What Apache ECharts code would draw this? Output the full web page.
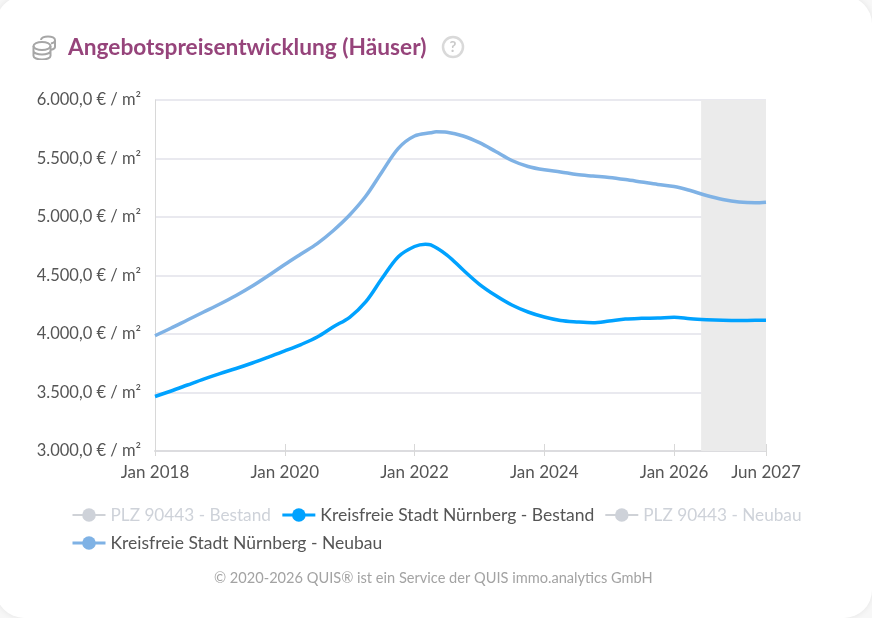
<!DOCTYPE html>
<html lang="de">
<head>
<meta charset="utf-8">
<title>Angebotspreisentwicklung (Häuser)</title>
<style>
  html, body { margin: 0; padding: 0; background: #f7f7f7; }
  #card { position: absolute; left: -4px; top: -4px; width: 876px; height: 622px; background: #fff; border-radius: 28px; box-shadow: 0 0 6px rgba(0,0,0,0.08); }
  #chart { position: absolute; left: 0; top: 0; width: 872px; height: 618px; }
  #coins { position: absolute; left: 32px; top: 35px; width: 25px; height: 25px; }
</style>
<script src="https://cdn.jsdelivr.net/npm/echarts@6/dist/echarts.min.js"></script>
</head>
<body>
<div id="card"></div>
<div id="chart"></div>
<svg id="coins" viewBox="0 0 25 25" fill="none" stroke="#a6a6a6" stroke-width="2">
  <ellipse cx="10" cy="11" rx="8.500" ry="4"/>
  <path d="M1.500 11v10c0 2 4 3.500 8.500 3.500s8.500-1.500 8.500-3.500V11M1.500 16c0 2 4 3.500 8.500 3.500s8.500-1.500 8.500-3.500"/>
  <path d="M9 5c0-2 3-3.500 7-3.500s7 1.500 7 3.500v7c0 1.300-1.500 2.300-4 2.800M19 8.500c2.500-.5 4-1.500 4-3"/>
</svg>
<script>
// Sample months, asking prices in EUR per square metre; each series also has a sample at its peak
const bestandMonths = [
  '2018-01','2018-04','2018-07','2018-10','2019-01','2019-04','2019-07','2019-10',
  '2020-01','2020-04','2020-07','2020-10','2021-01','2021-04','2021-07','2021-10',
  '2022-01','2022-03','2022-04','2022-07','2022-10','2023-01','2023-04','2023-07','2023-10',
  '2024-01','2024-04','2024-07','2024-10','2025-01','2025-04','2025-07','2025-10',
  '2026-01','2026-04','2026-07','2026-10','2027-01','2027-04','2027-06'
];
const bestandValues = [
  3466, 3513, 3564, 3615, 3662, 3705, 3752, 3803,
  3855, 3910, 3974, 4062, 4143, 4276, 4476, 4661,
  4748, 4768, 4762, 4675, 4547, 4425, 4329, 4248, 4188,
  4145, 4115, 4103, 4096, 4111, 4128, 4134, 4137,
  4143, 4130, 4122, 4117, 4115, 4117, 4117
];
const neubauMonths = [
  '2018-01','2018-04','2018-07','2018-10','2019-01','2019-04','2019-07','2019-10',
  '2020-01','2020-04','2020-07','2020-10','2021-01','2021-04','2021-07','2021-10',
  '2022-01','2022-04','2022-05','2022-07','2022-10','2023-01','2023-04','2023-07','2023-10',
  '2024-01','2024-04','2024-07','2024-10','2025-01','2025-04','2025-07','2025-10',
  '2026-01','2026-04','2026-07','2026-10','2027-01','2027-04','2027-06'
];
const neubauValues = [
  3985, 4051, 4120, 4188, 4256, 4329, 4410, 4500,
  4594, 4684, 4773, 4885, 5017, 5179, 5387, 5587,
  5692, 5720, 5728, 5724, 5692, 5635, 5560, 5483, 5432,
  5403, 5385, 5363, 5350, 5338, 5320, 5299, 5278,
  5261, 5226, 5184, 5150, 5128, 5121, 5126
];

const seriesNames = ['PLZ 90443 - Bestand', 'Kreisfreie Stadt Nürnberg - Bestand', 'PLZ 90443 - Neubau', 'Kreisfreie Stadt Nürnberg - Neubau'];
const xTickMonths = ['2018-01', '2020-01', '2022-01', '2024-01', '2026-01', '2027-06'];
const forecastStart = '2026-06';
const forecastEnd = '2027-06';

const MONTH_NAMES = ['Jan','Feb','Mär','Apr','Mai','Jun','Jul','Aug','Sep','Okt','Nov','Dez'];
// The x axis counts months since January 2018
const toIndex = (m) => { const [y, mo] = m.split('-').map(Number); return (y - 2018) * 12 + mo - 1; };
const monthLabel = (i) => MONTH_NAMES[i % 12] + ' ' + (2018 + Math.floor(i / 12));
const pairs = (months, values) => months.map((m, i) => [toIndex(m), values[i]]);
const formatPrice = (v) => v.toLocaleString('de-DE', { minimumFractionDigits: 1, maximumFractionDigits: 1 }) + ' € / m²';
const xTicks = xTickMonths.map(toIndex);

const chart = echarts.init(document.getElementById('chart'), null, { renderer: 'canvas' });

const baseX = {
  type: 'value',
  min: toIndex('2018-01'),
  max: toIndex('2027-06'),
  splitLine: { show: false },
  axisPointer: { show: false }
};

chart.setOption({
  animation: false,
  backgroundColor: 'transparent',
  textStyle: { fontFamily: 'Lato' },
  title: [
    { text: 'Angebotspreisentwicklung (Häuser)', left: 63, top: 31,
      textStyle: { fontFamily: 'Lato', fontSize: 22.7, fontWeight: 700, color: '#96447b' } },
    { text: '© 2020-2026 QUIS® ist ein Service der QUIS immo.analytics GmbH', left: 209, top: 566,
      textStyle: { fontFamily: 'Lato', fontSize: 14.6, fontWeight: 400, color: '#a3a3a3' } }
  ],
  legend: {
    left: 66, top: 501, width: 750,
    itemWidth: 33, itemHeight: 17, itemGap: 10,
    textStyle: { fontFamily: 'Lato', fontSize: 17.5, color: '#555' },
    lineStyle: { width: 3 },
    inactiveColor: '#ced2d9',
    inactiveBorderWidth: 0,
    selected: { [seriesNames[0]]: false, [seriesNames[2]]: false },
    data: [
      { name: seriesNames[0], textStyle: { fontSize: 17.2 } },
      { name: seriesNames[1] },
      { name: seriesNames[2], textStyle: { fontSize: 17.2 } },
      { name: seriesNames[3] }
    ]
  },
  grid: { left: 155, right: 106, top: 100, bottom: 167 },
  xAxis: [
    Object.assign({}, baseX, {
      position: 'bottom',
      axisLine: { show: true, lineStyle: { color: '#dcdcdf', width: 2 } },
      axisTick: { show: true, length: 5, lineStyle: { color: '#d8d8d8', width: 1 }, customValues: xTicks },
      axisLabel: {
        show: true, customValues: xTicks, margin: 13, fontFamily: 'Lato', fontSize: 17, color: '#555',
        formatter: (v) => monthLabel(v)
      }
    }),
    Object.assign({}, baseX, {
      position: 'bottom',
      axisLine: { show: false },
      axisTick: { show: true, inside: true, length: 7, lineStyle: { color: '#d8d8d8', width: 1 }, customValues: xTicks },
      axisLabel: { show: false }
    })
  ],
  yAxis: {
    type: 'value', min: 3000, max: 6000, interval: 500,
    axisLine: { show: true, lineStyle: { color: '#d8d8d8', width: 1 } },
    axisTick: { show: false },
    splitLine: { show: true, lineStyle: { color: '#e9e9ef', width: 2 } },
    axisLabel: { margin: 14, fontFamily: 'Lato', fontSize: 16.5, color: '#555', formatter: (v) => formatPrice(v) }
  },
  series: [
    { name: seriesNames[0], type: 'line', symbol: 'circle', data: [], itemStyle: { color: '#ced2d9' }, lineStyle: { color: '#ced2d9' } },
    {
      name: seriesNames[1], type: 'line', symbol: 'circle', smooth: 0.33, showSymbol: false, z: 5,
      data: pairs(bestandMonths, bestandValues),
      lineStyle: { color: '#00a2ff', width: 3.5 }, itemStyle: { color: '#00a2ff' },
      markArea: {
        silent: true, itemStyle: { color: '#ebebeb', opacity: 1 },
        data: [[{ xAxis: toIndex(forecastStart), yAxis: 6000 }, { xAxis: toIndex(forecastEnd), yAxis: 3000 }]]
      }
    },
    { name: seriesNames[2], type: 'line', symbol: 'circle', data: [], itemStyle: { color: '#ced2d9' }, lineStyle: { color: '#ced2d9' } },
    {
      name: seriesNames[3], type: 'line', symbol: 'circle', smooth: 0.33, showSymbol: false, z: 5,
      data: pairs(neubauMonths, neubauValues),
      lineStyle: { color: '#7fb2e5', width: 3.5 }, itemStyle: { color: '#7fb2e5' }
    }
  ],
  graphic: [
    // Help badge after the heading
    { type: 'circle', silent: true, shape: { cx: 453, cy: 47, r: 10 }, style: { fill: '#fff', stroke: '#d9d9d9', lineWidth: 2.5 } },
    { type: 'text', silent: true, style: { x: 453, y: 47, text: '?', align: 'center', verticalAlign: 'middle', fill: '#cacaca', font: '700 15px Lato' } }
  ]
});
</script>
</body>
</html>
